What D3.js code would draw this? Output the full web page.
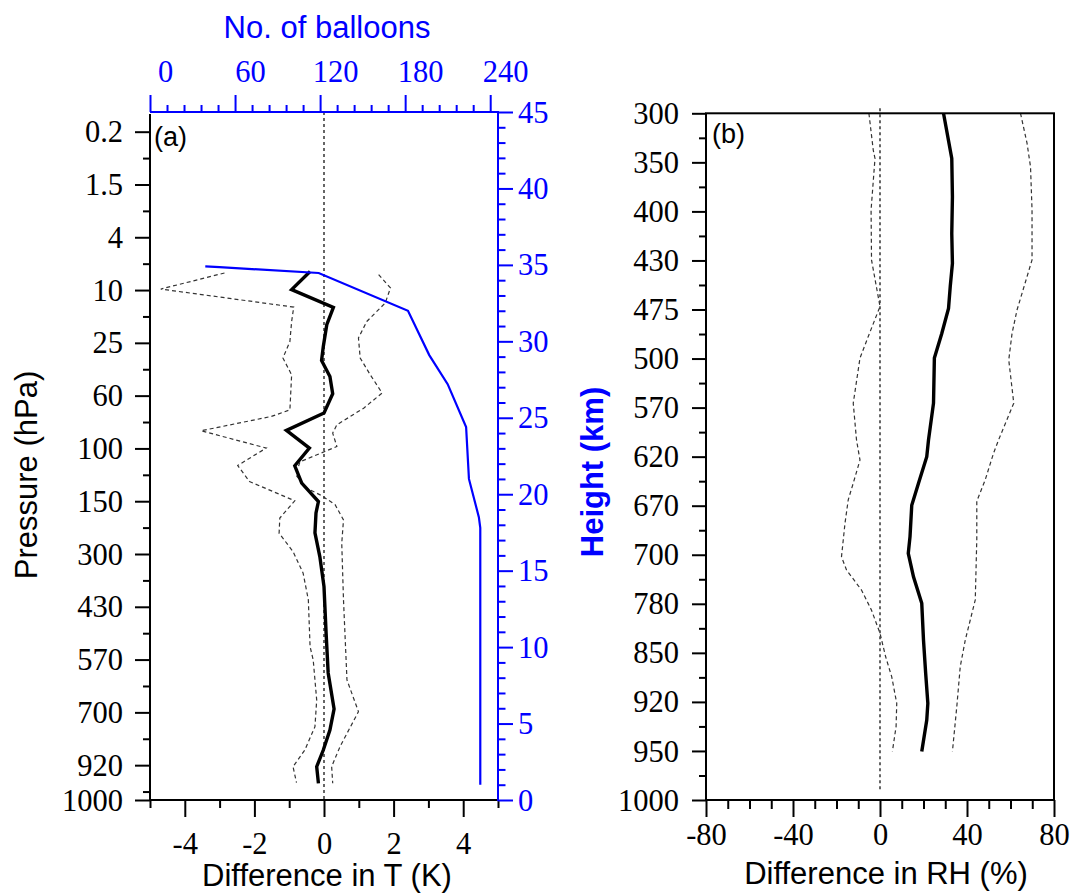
<!DOCTYPE html>
<html><head><meta charset="utf-8">
<script src="https://cdn.jsdelivr.net/npm/d3@7"></script>
<style>body{margin:0;background:#fff}</style>
</head><body><svg id="c" width="1072" height="894"></svg>
<script>
// ---------- Panel (a) data ----------
const pressureLabelsA = ["0.2","1.5","4","10","25","60","100","150","300","430","570","700","920"];
const pressureBottomA = "1000";
const tTicks = [-4,-2,0,2,4];
const balloonTicks = [0,60,120,180,240];
const heightTicks = [0,5,10,15,20,25,30,35,40,45];

const meanH = [34.57,33.38,32.22,31.09,29.67,28.75,27.70,26.57,25.31,24.17,23.02,21.86,20.73,19.52,18.78,17.47,15.92,13.96,10.93,8.31,5.96,4.58,3.27,2.18,1.09];
const meanT = [-0.40,-0.93,0.27,0.08,-0.02,-0.07,0.17,0.25,0.0,-1.08,-0.42,-0.84,-0.64,-0.16,-0.23,-0.26,-0.12,0.0,0.06,0.12,0.29,0.17,-0.02,-0.21,-0.16];

const lowH = [34.47,33.42,32.24,31.30,29.99,28.91,27.81,25.52,25.09,24.15,23.02,21.88,20.83,19.57,18.44,17.45,16.25,14.84,13.09,10.03,9.16,6.54,4.80,3.27,2.18,1.13];
const lowT = [-2.86,-4.69,-0.87,-0.93,-0.98,-1.18,-0.93,-0.98,-1.51,-3.53,-1.66,-2.48,-2.14,-0.84,-1.27,-1.29,-0.89,-0.60,-0.45,-0.40,-0.31,-0.21,-0.26,-0.55,-0.89,-0.79];

const highH = [34.36,33.49,32.51,31.30,30.22,28.91,27.81,26.62,25.63,24.54,24.0,23.12,22.12,21.27,20.42,19.90,19.31,18.32,16.80,13.09,7.85,5.78,3.49,2.18,1.09];
const highT = [1.57,1.91,1.76,1.23,0.99,1.04,1.33,1.67,1.14,0.37,0.25,0.37,-0.69,-0.81,-0.52,-0.06,0.32,0.56,0.51,0.56,0.66,0.99,0.46,0.22,0.25];

const balloonH = [34.9,34.85,34.47,32.0,29.1,27.2,24.4,21.0,18.5,17.8,1.0];
const balloonN = [39,49,119,182,197,210,223,225,232,233,233];

// ---------- Panel (b) data ----------
const pressureLabelsB = ["300","350","400","430","475","500","570","620","670","700","780","850","920","950","1000"];
const rhTicks = [-80,-40,0,40,80];

const rhMeanLev = [0,0.92,1.70,2.45,3.06,3.53,3.98,4.49,4.99,5.91,6.66,7.0,7.54,7.99,8.63,8.97,9.45,9.99,10.74,11.42,12.03,12.37,13.01];
const rhMean    = [29.2,33.0,33.3,33.0,33.3,32.3,31.5,28.4,25.0,24.6,22.3,21.5,17.7,14.6,13.8,13.0,15.4,19.2,20.0,21.0,22.0,21.5,19.2];

const rhLowLev = [0,0.75,0.92,1.97,2.99,3.94,4.55,4.99,5.91,6.66,7.07,7.54,7.88,8.36,9.04,9.31,9.72,10.13,10.6,11.08,11.49,12.03,12.5,13.01];
const rhLow    = [-5.1,-3.1,-2.3,-4.1,-3.9,0,-5.4,-9.2,-12.3,-10.8,-9.2,-12.3,-14.6,-16.1,-17.7,-15.4,-8.5,-3.9,0,2.6,5.4,7.7,7.4,5.7];

const rhHighLev = [0,0.61,1.09,1.97,2.99,3.67,4.01,4.49,5.03,5.91,6.66,6.93,7.47,7.91,8.69,9.92,10.33,10.74,11.28,12.1,13.01];
const rhHigh    = [64.6,67.6,69.2,69.9,69.9,65.3,63.0,60.7,59.2,61.5,54.5,52.2,48.4,44.5,44.5,43.8,41.5,39.2,36.9,35.3,33.3];

// ---------- drawing ----------
const svg = d3.select('#c');
const serif = "'Liberation Serif', 'Times New Roman', 'DejaVu Serif', serif";
const sans = "'Liberation Sans', Arial, sans-serif";
const BLUE = '#0000ff';
const TICKFS = 30.5, TITLEFS = 31;

function styleAxis(g, color, showText){
  g.attr('font-family', serif).attr('font-size', TICKFS);
  g.select('.domain').remove();
  g.selectAll('line').attr('stroke', color).attr('stroke-width', 2);
  g.selectAll('text').attr('fill', color).attr('font-family', serif).attr('font-size', TICKFS)
    .style('font-family', serif).style('font-size', TICKFS+'px');
  if(!showText) g.selectAll('text').remove();
}
function minorRange(a,b,step,exclude){
  const r=[]; for(let v=a; v<=b+1e-9; v+=step){ if(!exclude(v)) r.push(+v.toFixed(6)); } return r;
}

// ---- Panel (a) ----
const aL=150, aR=498, aT=112, aB=800;
const xT = d3.scaleLinear().domain([-5,5]).range([aL,aR]);
const xN = d3.scaleLinear().domain([0,245.5]).range([aL,aR]);
const yH = d3.scaleLinear().domain([0,45]).range([aB,aT]);
const yP = d3.scaleLinear().domain([-0.373,12.66]).range([aT,aB]);

const ga = svg.append('g');

ga.append('line').attr('x1',xT(0)).attr('x2',xT(0)).attr('y1',aT).attr('y2',aB)
  .attr('stroke','#000').attr('stroke-width',1.2).attr('stroke-dasharray','3,3');

const lineA = (hs, vs, xs) => d3.line().x((d,i)=>xs(vs[i])).y((d,i)=>yH(hs[i]))(hs);
ga.append('path').attr('d', lineA(lowH, lowT, xT)).attr('fill','none').attr('stroke','#333').attr('stroke-width',1.2).attr('stroke-dasharray','4,3');
ga.append('path').attr('d', lineA(highH, highT, xT)).attr('fill','none').attr('stroke','#333').attr('stroke-width',1.2).attr('stroke-dasharray','4,3');
ga.append('path').attr('d', lineA(meanH, meanT, xT)).attr('fill','none').attr('stroke','#000').attr('stroke-width',3.4);
ga.append('path').attr('d', lineA(balloonH, balloonN, xN)).attr('fill','none').attr('stroke',BLUE).attr('stroke-width',2.2);

const gb = ga.append('g').attr('transform',`translate(0,${aB})`);
gb.call(d3.axisBottom(xT).tickValues(tTicks).tickSize(17).tickSizeOuter(0).tickFormat(d=>String(d)));
styleAxis(gb,'#000',true);
gb.selectAll('text').attr('y',54).attr('dy',0);
const gbm = ga.append('g').attr('transform',`translate(0,${aB})`);
gbm.call(d3.axisBottom(xT).tickValues([-5,-3,-1,1,3,5]).tickSize(8).tickSizeOuter(0));
styleAxis(gbm,'#000',false);

const gl = ga.append('g').attr('transform',`translate(${aL},0)`);
gl.call(d3.axisLeft(yP).tickValues(d3.range(pressureLabelsA.length).concat([yP.domain()[1]]))
  .tickSize(15).tickSizeOuter(0)
  .tickFormat((d,i)=> i<pressureLabelsA.length ? pressureLabelsA[i] : pressureBottomA));
styleAxis(gl,'#000',true);
gl.selectAll('text').attr('x',-27).attr('dy','0.33em');
const glm = ga.append('g').attr('transform',`translate(${aL},0)`);
glm.call(d3.axisLeft(yP).tickValues(d3.range(pressureLabelsA.length).map(i=>i+0.5)).tickSize(7).tickSizeOuter(0));
styleAxis(glm,'#000',false);

const gt = ga.append('g').attr('transform',`translate(0,${aT})`);
gt.call(d3.axisTop(xN).tickValues(balloonTicks).tickSize(17).tickSizeOuter(0).tickFormat(d=>String(d)));
styleAxis(gt,BLUE,true);
gt.selectAll('text').attr('x',15).attr('y',-30).attr('dy',0);
const gtm = ga.append('g').attr('transform',`translate(0,${aT})`);
gtm.call(d3.axisTop(xN).tickValues(minorRange(12,240,12,v=>Math.abs(v%60)<1e-6)).tickSize(7).tickSizeOuter(0));
styleAxis(gtm,BLUE,false);

const gr = ga.append('g').attr('transform',`translate(${aR},0)`);
gr.call(d3.axisRight(yH).tickValues(heightTicks).tickSize(15).tickSizeOuter(0).tickFormat(d=>String(d)));
styleAxis(gr,BLUE,true);
gr.selectAll('text').attr('x',20).attr('dy','0.33em');
const grm = ga.append('g').attr('transform',`translate(${aR},0)`);
grm.call(d3.axisRight(yH).tickValues(minorRange(1,44,1,v=>v%5===0)).tickSize(7.5).tickSizeOuter(0));
styleAxis(grm,BLUE,false);

ga.append('line').attr('x1',aL).attr('x2',aL).attr('y1',aT+2).attr('y2',aB+1).attr('stroke','#000').attr('stroke-width',2);
ga.append('line').attr('x1',aL-1).attr('x2',aR).attr('y1',aB).attr('y2',aB).attr('stroke','#000').attr('stroke-width',2);
ga.append('line').attr('x1',aL).attr('x2',aR+1).attr('y1',aT).attr('y2',aT).attr('stroke',BLUE).attr('stroke-width',2);
ga.append('line').attr('x1',aR).attr('x2',aR).attr('y1',aT).attr('y2',aB+1).attr('stroke',BLUE).attr('stroke-width',2);

svg.append('text').attr('x',327).attr('y',38).attr('text-anchor','middle').attr('fill',BLUE)
  .style('font-family',sans).style('font-size',TITLEFS+'px').text('No. of balloons');
svg.append('text').attr('x',327).attr('y',886).attr('text-anchor','middle').attr('fill','#000')
  .style('font-family',sans).style('font-size',TITLEFS+'px').text('Difference in T (K)');
svg.append('text').attr('transform','translate(37,475) rotate(-90)').attr('text-anchor','middle').attr('fill','#000')
  .style('font-family',sans).style('font-size',TITLEFS+'px').text('Pressure (hPa)');
svg.append('text').attr('transform','translate(603,472) rotate(-90)').attr('text-anchor','middle').attr('fill',BLUE)
  .style('font-family',sans).style('font-weight','bold').style('font-size',TITLEFS+'px').text('Height (km)');
svg.append('text').attr('x',154).attr('y',146).attr('fill','#000')
  .style('font-family',sans).style('font-size','27px').text('(a)');

// ---- Panel (b) ----
const bL=706, bR=1054, bT=113.3, bB=800;
const xRH = d3.scaleLinear().domain([-80,80]).range([bL,bR]);
const yLev = d3.scaleLinear().domain([0,pressureLabelsB.length-1]).range([bT,bB]);
const gB = svg.append('g');

gB.append('line').attr('x1',xRH(0)).attr('x2',xRH(0)).attr('y1',bT-5).attr('y2',yLev(13.8))
  .attr('stroke','#000').attr('stroke-width',1.2).attr('stroke-dasharray','3,3');
const lineB = (ls, vs) => d3.line().x((d,i)=>xRH(vs[i])).y((d,i)=>yLev(ls[i]))(ls);
gB.append('path').attr('d', lineB(rhLowLev, rhLow)).attr('fill','none').attr('stroke','#333').attr('stroke-width',1.2).attr('stroke-dasharray','4,3');
gB.append('path').attr('d', lineB(rhHighLev, rhHigh)).attr('fill','none').attr('stroke','#333').attr('stroke-width',1.2).attr('stroke-dasharray','4,3');
gB.append('path').attr('d', lineB(rhMeanLev, rhMean)).attr('fill','none').attr('stroke','#000').attr('stroke-width',3.4);

const gbb = gB.append('g').attr('transform',`translate(0,${bB})`);
gbb.call(d3.axisBottom(xRH).tickValues(rhTicks).tickSize(17).tickSizeOuter(0).tickFormat(d=>String(d)));
styleAxis(gbb,'#000',true);
gbb.selectAll('text').attr('y',45).attr('dy',0);
const gbbm = gB.append('g').attr('transform',`translate(0,${bB})`);
gbbm.call(d3.axisBottom(xRH).tickValues(minorRange(-70,70,10,v=>Math.abs(v%40)<1e-6)).tickSize(9).tickSizeOuter(0));
styleAxis(gbbm,'#000',false);

const gbl = gB.append('g').attr('transform',`translate(${bL},0)`);
gbl.call(d3.axisLeft(yLev).tickValues(d3.range(pressureLabelsB.length)).tickSize(14).tickSizeOuter(0)
  .tickFormat((d,i)=>pressureLabelsB[i]));
styleAxis(gbl,'#000',true);
gbl.selectAll('text').attr('x',-27).attr('dy','0.33em');
const gblm = gB.append('g').attr('transform',`translate(${bL},0)`);
gblm.call(d3.axisLeft(yLev).tickValues(d3.range(pressureLabelsB.length-1).map(i=>i+0.5)).tickSize(7).tickSizeOuter(0));
styleAxis(gblm,'#000',false);

gB.append('rect').attr('x',bL).attr('y',bT).attr('width',bR-bL).attr('height',bB-bT)
  .attr('fill','none').attr('stroke','#000').attr('stroke-width',2);

svg.append('text').attr('x',886).attr('y',884).attr('text-anchor','middle').attr('fill','#000')
  .style('font-family',sans).style('font-size',TITLEFS+'px').text('Difference in RH (%)');
svg.append('text').attr('x',712).attr('y',143).attr('fill','#000')
  .style('font-family',sans).style('font-size','27px').text('(b)');
</script>
</body></html>
